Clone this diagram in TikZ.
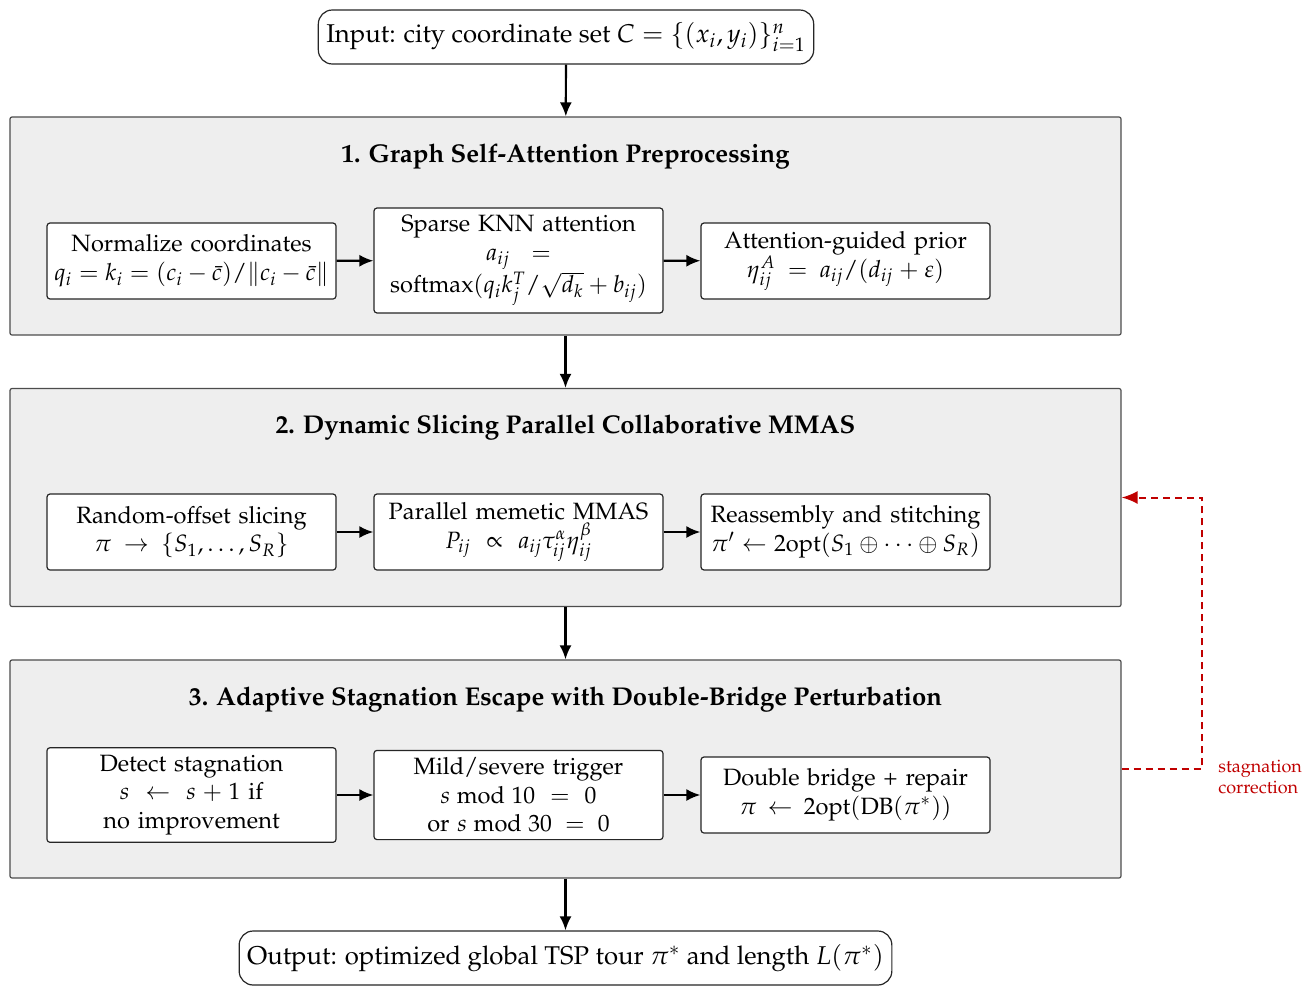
\documentclass[tikz,border=0pt,12pt]{standalone}
\usepackage[T1]{fontenc}
\usepackage{amssymb,amsmath}
\usepackage{mathpazo}
\usepackage{tikz}
\usetikzlibrary{arrows.meta}
\usetikzlibrary{calc}
\definecolor{panelgray}{HTML}{EEEEEE}
\definecolor{fbred}{HTML}{C00000}
\newcommand{\bodysize}{\fontsize{11.8}{14.3}\selectfont}
\newcommand{\headsize}{\fontsize{12.85}{15.5}\selectfont}
\tikzset{
    panel/.style={draw=black!70, line width=0.6pt, fill=panelgray, rounded corners=1pt, minimum width=555.5pt, minimum height=109pt},
    procbox/.style={draw=black!85, line width=0.6pt, fill=white, rounded corners=1.5pt, font=\bodysize, text width=138pt, align=center, minimum width=144.5pt, minimum height=38pt, inner xsep=2pt, inner ysep=3.6pt},
    iobox/.style={draw=black!85, line width=0.6pt, fill=white, rounded corners=7pt, font=\headsize, minimum height=27pt, inner xsep=4pt},
    flow/.style={-{Latex[length=7pt,width=6pt]}, line width=1.1pt},
    fback/.style={-{Latex[length=8pt,width=6.5pt]}, fbred, dash pattern=on 3.5pt off 2.5pt, line width=1pt}
}

\begin{document}
\begin{tikzpicture}[x=0.5pt,y=-0.5pt]
\useasboundingbox (0,0) rectangle (1310,995);
% input / output
\node[iobox] (in) at (566,37) {Input: city coordinate set $C=\{(x_i,y_i)\}_{i=1}^{n}$};
\node[iobox] (out) at (565.5,958) {Output: optimized global TSP tour $\pi^*$ and length $L(\pi^*)$};
% the three stages
\foreach \p/\y/\t in {p1/226/{1. Graph Self-Attention Preprocessing},
                      p2/497.5/{2. Dynamic Slicing Parallel Collaborative MMAS},
                      p3/769/{3. Adaptive Stagnation Escape with Double-Bridge Perturbation}}{
    \node[panel] (\p) at (565.5,\y) {};
    \node[font=\headsize\bfseries] at ($(\p.north)+(0,40)$) {\t};
}
% stage 1
\node[procbox] (a1) at (191.5,261) {Normalize coordinates\\$q_i=k_i=(c_i-\bar{c})/\|c_i-\bar{c}\|$};
\node[procbox] (a2) at (518.5,260.5) {Sparse KNN attention\\$a_{ij}=$\\softmax$(q_ik_j^T/\sqrt{d_k}+b_{ij})$};
\node[procbox] (a3) at (845.5,261) {Attention-guided prior\\$\eta_{ij}^{A}=a_{ij}/(d_{ij}+\varepsilon)$};
% stage 2
\node[procbox] (b1) at (191.5,532) {Random-offset slicing\\$\pi\to\{S_1,\dots,S_R\}$};
\node[procbox] (b2) at (518.5,532) {Parallel memetic MMAS\\$P_{ij}\propto a_{ij}\tau_{ij}^{\alpha}\eta_{ij}^{\beta}$};
\node[procbox] (b3) at (845.5,532) {Reassembly and stitching\\$\pi'\leftarrow\mathrm{2opt}(S_1\oplus\cdots\oplus S_R)$};
% stage 3
\node[procbox] (c1) at (191.5,795) {Detect stagnation\\$s\leftarrow s+1$ if\\no improvement};
\node[procbox] (c2) at (518.5,795) {Mild/severe trigger\\$s\bmod 10=0$\\or $s\bmod 30=0$};
\node[procbox] (c3) at (845.5,795) {Double bridge + repair\\$\pi\leftarrow\mathrm{2opt}(\mathrm{DB}(\pi^*))$};
% main flow
\draw[flow] (in) -- (p1);
\draw[flow] (p1) -- (p2);
\draw[flow] (p2) -- (p3);
\draw[flow] (p3) -- (out);
\foreach \r in {a,b,c}{
    \draw[flow] (\r1) -- (\r2);
    \draw[flow] (\r2) -- (\r3);
}
% feedback
\coordinate (fb) at (1202,769);
\draw[fback] (p3.east) -- (fb) |- (p2.east);
\node[fbred, font=\fontsize{9}{10.5}\selectfont, align=left, anchor=west] (fblabel) at (1210,777) {stagnation\\correction};
\end{tikzpicture}
\end{document}
